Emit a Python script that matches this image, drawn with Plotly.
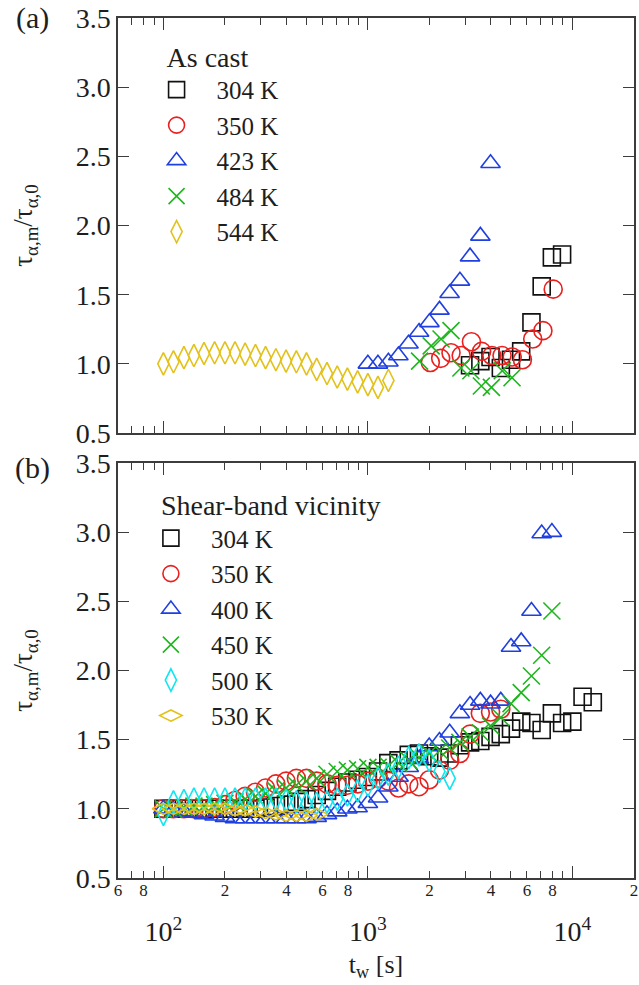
import plotly.graph_objects as go

# ---------------- data ----------------
# Panel (a): as cast
a304_t = [3160, 3550, 3980, 4470, 5010, 5620, 6310, 7080, 7940, 8910]
a304_v = [0.99, 1.02, 1.05, 0.97, 1.03, 1.09, 1.30, 1.56, 1.77, 1.79]

a350_t = [2020, 2270, 2550, 2860, 3210, 3600, 4040, 4530, 5080, 5700, 6400, 7180, 8060]
a350_v = [1.01, 1.04, 1.08, 1.06, 1.16, 1.09, 1.06, 1.06, 1.05, 1.03, 1.18, 1.24, 1.54]

a423_t = [1000, 1120, 1260, 1410, 1580, 1780, 2000, 2240, 2510, 2820, 3160, 3550, 3980]
a423_v = [1.00, 1.00, 1.015, 1.06, 1.145, 1.23, 1.30, 1.39, 1.51, 1.60, 1.775, 1.925, 2.45]

a484_t = [1790, 2040, 2280, 2550, 2850, 3190, 3590, 4020, 4540, 5070]
a484_v = [1.02, 1.13, 1.18, 1.24, 0.97, 0.95, 0.84, 0.83, 0.95, 0.90]

a544_t = [100, 112, 126, 141, 158, 178, 200, 224, 251, 282, 316, 355, 398,
          447, 501, 562, 631, 708, 794, 891, 1000, 1120, 1260]
a544_v = [1.00, 1.015, 1.045, 1.06, 1.075, 1.08, 1.08, 1.08, 1.07, 1.06, 1.045, 1.03,
          1.02, 1.015, 1.00, 0.96, 0.93, 0.905, 0.89, 0.87, 0.85, 0.83, 0.88]

# Panel (b): shear-band vicinity (common waiting-time grid)
b_t = [100, 112, 126, 141, 158, 178, 200, 224, 251, 282, 316, 355, 398, 447, 501,
       562, 631, 708, 794, 891, 1000, 1122, 1259, 1413, 1585, 1778, 1995, 2239,
       2512, 2818, 3162, 3548, 3981, 4467, 5012, 5623, 6310, 7079, 7943, 8913,
       10000, 11220, 12589]

b304_v = [1.0, 1.0, 1.0, 1.0, 1.0, 1.0, 1.0, 1.0, 1.0, 1.0, 1.01, 1.02, 1.03, 1.05,
          1.07, 1.10, 1.13, 1.16, 1.19, 1.21, 1.23, 1.27, 1.33, 1.35, 1.39, 1.40,
          1.38, 1.37, 1.40, 1.46, 1.48, 1.49, 1.52, 1.54, 1.58, 1.63, 1.62, 1.57,
          1.69, 1.62, 1.63, 1.81, 1.77]
b350_v = [1.0, 1.0, 1.0, 1.0, 1.0, 1.01, 1.03, 1.06, 1.09, 1.12, 1.15, 1.18, 1.20,
          1.22, 1.22, 1.20, 1.18, 1.17, 1.17, 1.18, 1.20, 1.22, 1.20, 1.15, 1.18,
          1.16, 1.21, 1.28, 1.35, 1.40, 1.54, 1.69, 1.70, 1.72]
b400_v = [1.0, 0.99, 0.98, 0.97, 0.96, 0.95, 0.94, 0.93, 0.93, 0.93, 0.93, 0.93,
          0.93, 0.93, 0.93, 0.94, 0.96, 0.98, 1.0, 1.01, 1.04, 1.08, 1.16, 1.23,
          1.30, 1.36, 1.45, 1.49, 1.55, 1.69, 1.75, 1.78, 1.76, 1.78, 2.17, 2.21,
          2.43, 2.99, 3.0]
b450_v = [1.0, 1.0, 1.01, 1.02, 1.02, 1.03, 1.04, 1.05, 1.07, 1.09, 1.11, 1.13,
          1.15, 1.17, 1.20, 1.22, 1.25, 1.27, 1.28, 1.29, 1.30, 1.30, 1.31, 1.33,
          1.35, 1.37, 1.40, 1.42, 1.44, 1.48, 1.52, 1.55, 1.60, 1.66, 1.76, 1.84,
          1.96, 2.11, 2.43]
b500_v = [0.96, 1.05, 1.06, 1.07, 1.07, 1.07, 1.07, 1.07, 1.07, 1.07, 1.07, 1.07,
          1.06, 1.05, 1.04, 1.04, 1.05, 1.07, 1.10, 1.13, 1.17, 1.22, 1.25, 1.30,
          1.37, 1.39, 1.35, 1.27, 1.22]
b530_v = [1.0, 1.0, 1.0, 1.0, 1.0, 1.0, 1.0, 0.99, 0.99, 0.98, 0.97, 0.96, 0.95,
          0.95, 0.95, 0.96]

# axis ticks / labels
y_ticks = [0.5, 1.0, 1.5, 2.0, 2.5, 3.0, 3.5]
x_major = [100, 1000, 10000]
x_major_text = ["10<sup>2</sup>", "10<sup>3</sup>", "10<sup>4</sup>"]
x_minor = [60, 70, 80, 90, 200, 300, 400, 500, 600, 700, 800, 900,
           2000, 3000, 4000, 5000, 6000, 7000, 8000, 9000, 20000]
x_digit_vals = [60, 80, 200, 400, 600, 800, 2000, 4000, 6000, 8000, 20000]
x_digit_text = ["6", "8", "2", "4", "6", "8", "2", "4", "6", "8", "2"]

# ---------------- style ----------------
SERIF = "Liberation Serif"
AX = "#3c3c3c"
TXT = "#1e1e1e"
BLACK, RED, BLUE, GREEN, GOLD, CYAN = "#111111", "#e8201e", "#1f3fe0", "#1fb51f", "#e2c21a", "#10e6f0"
LW = 1.6
NB = "\u00a0"

fig = go.Figure()


def add(t, v, name, sym, color, size, xa, ya, leg):
    fig.add_trace(go.Scatter(
        x=t, y=v, mode="markers", name=name, legend=leg, xaxis=xa, yaxis=ya,
        marker=dict(symbol=sym, size=size, color=color, line=dict(width=LW, color=color)),
    ))


add(a304_t, a304_v, "304 K", "square-open", BLACK, 17, "x", "y", "legend")
add(a350_t, a350_v, "350 K", "circle-open", RED, 18, "x", "y", "legend")
add(a423_t, a423_v, "423 K", "triangle-up-open", BLUE, 17, "x", "y", "legend")
add(a484_t, a484_v, "484 K", "x-thin-open", GREEN, 17, "x", "y", "legend")
add(a544_t, a544_v, "544 K", "diamond-tall-open", GOLD, 16, "x", "y", "legend")

add(b_t[:len(b304_v)], b304_v, "304 K", "square-open", BLACK, 17, "x2", "y2", "legend2")
add(b_t[:len(b350_v)], b350_v, "350 K", "circle-open", RED, 18, "x2", "y2", "legend2")
add(b_t[:len(b400_v)], b400_v, "400 K", "triangle-up-open", BLUE, 17, "x2", "y2", "legend2")
add(b_t[:len(b450_v)], b450_v, "450 K", "x-thin-open", GREEN, 17, "x2", "y2", "legend2")
add(b_t[:len(b500_v)], b500_v, "500 K", "diamond-tall-open", CYAN, 16, "x2", "y2", "legend2")
add(b_t[:len(b530_v)], b530_v, "530 K", "diamond-wide-open", GOLD, 16, "x2", "y2", "legend2")

# empty carrier trace for the digit-label axis
fig.add_trace(go.Scatter(x=[], y=[], xaxis="x3", yaxis="y2", showlegend=False, hoverinfo="skip"))

XR = [1.778, 4.3015]


def xaxis(**kw):
    d = dict(type="log", range=XR, showgrid=False, zeroline=False, showline=True,
             linecolor=AX, linewidth=1.5, mirror="ticks", ticks="inside", ticklen=12,
             tickwidth=1.3, tickcolor=AX, tickmode="array", tickvals=x_major,
             minor=dict(tickmode="array", tickvals=x_minor, ticks="inside", ticklen=7,
                        tickwidth=1.2, tickcolor=AX, showgrid=False))
    d.update(kw)
    return d


def yaxis(**kw):
    d = dict(range=[0.5, 3.5], showgrid=False, zeroline=False, showline=True,
             linecolor=AX, linewidth=1.5, mirror="ticks", ticks="inside", ticklen=11,
             tickwidth=1.3, tickcolor=AX, tickmode="array", tickvals=y_ticks,
             ticktext=["%.1f" % v for v in y_ticks],
             tickfont=dict(family=SERIF, size=28, color=TXT),
             title=dict(text="τ<sub>α,m</sub>/τ<sub>α,0</sub>",
                        font=dict(family=SERIF, size=27, color=TXT), standoff=35))
    d.update(kw)
    return d


leg_common = dict(bgcolor="rgba(0,0,0,0)", borderwidth=0, xanchor="left", yanchor="top",
                  font=dict(family=SERIF, size=25, color=TXT), itemwidth=70,
                  tracegroupgap=0)

fig.update_layout(
    width=639, height=985,
    margin=dict(l=118, r=1, t=18, b=107),
    paper_bgcolor="white", plot_bgcolor="white",
    showlegend=True,
    xaxis=xaxis(anchor="y", showticklabels=False),
    xaxis2=xaxis(anchor="y2", ticktext=x_major_text,
                 tickfont=dict(family=SERIF, size=28, color=TXT), ticklabelstandoff=28,
                 ticklabeloverflow="allow",
                 title=dict(text="t<sub>w</sub> [s]", font=dict(family=SERIF, size=26, color=TXT),
                            standoff=8)),
    xaxis3=dict(type="log", range=XR, overlaying="x2", anchor="y2", side="bottom",
                showgrid=False, zeroline=False, showline=False, ticks="",
                tickmode="array", tickvals=x_digit_vals, ticktext=x_digit_text,
                ticklabeloverflow="allow",
                tickfont=dict(family=SERIF, size=17, color=TXT)),
    yaxis=yaxis(anchor="x", domain=[0.5174, 1.0]),
    yaxis2=yaxis(anchor="x2", domain=[0.0, 0.4826]),
    legend=dict(leg_common, x=0.036, y=0.9855,
                title=dict(text=NB * 4 + "As cast", font=dict(family=SERIF, size=28, color=TXT))),
    legend2=dict(leg_common, x=0.025, y=0.464,
                 title=dict(text=NB * 4 + "Shear-band vicinity",
                            font=dict(family=SERIF, size=28, color=TXT))),
    annotations=[
        dict(text="(a)", xref="paper", yref="paper", x=-0.165, y=1.0, xanchor="center",
             yanchor="middle", showarrow=False, font=dict(family=SERIF, size=30, color=TXT)),
        dict(text="(b)", xref="paper", yref="paper", x=-0.165, y=0.477, xanchor="center",
             yanchor="middle", showarrow=False, font=dict(family=SERIF, size=30, color=TXT)),
    ],
)

fig.write_html("out.html")
